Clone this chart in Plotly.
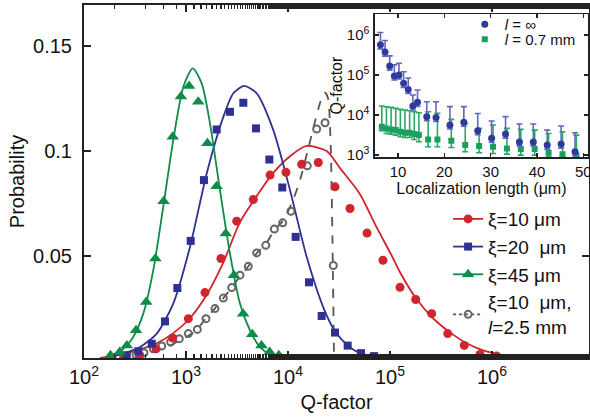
import numpy as np
import plotly.graph_objects as go

# ---------------- main panel data ----------------
# marker data: log10(Q-factor) and probability
xi10_logq = [2.385, 2.546, 2.706, 2.870, 3.023, 3.186, 3.343, 3.497, 3.660, 3.824, 3.980,
             4.134, 4.297, 4.461, 4.608, 4.775, 4.931, 5.098, 5.252, 5.409, 5.566, 5.728,
             5.882, 6.046]
xi10_prob = [0.0013, 0.0029, 0.0060, 0.0111, 0.0203, 0.0327, 0.0489, 0.0667, 0.0770, 0.0886,
             0.0899, 0.0937, 0.0946, 0.0830, 0.0727, 0.0610, 0.0481, 0.0352, 0.0294, 0.0227,
             0.0132, 0.0076, 0.0033, 0.0025]

xi20_logq = [2.419, 2.532, 2.664, 2.794, 2.915, 3.046, 3.176, 3.301, 3.431, 3.562, 3.686,
             3.817, 3.944, 4.075, 4.206, 4.330, 4.461, 4.585, 4.716, 4.843]
xi20_prob = [0.0029, 0.0048, 0.0084, 0.0190, 0.0349, 0.0573, 0.0862, 0.1103, 0.1187, 0.1230,
             0.1108, 0.0960, 0.0827, 0.0592, 0.0376, 0.0216, 0.0137, 0.0075, 0.0039, 0.0025]

xi45_logq = [2.26, 2.35, 2.42, 2.51, 2.61, 2.70, 2.78, 2.87, 2.95, 3.03, 3.12, 3.21, 3.30,
             3.39, 3.47, 3.56, 3.65, 3.74, 3.82, 3.91]
xi45_prob = [0.0029, 0.0044, 0.0076, 0.0148, 0.0282, 0.0489, 0.0762, 0.1068, 0.1260, 0.1310,
             0.1235, 0.1037, 0.0833, 0.0608, 0.0410, 0.0227, 0.0129, 0.0076, 0.0044, 0.0029]

l25_logq = [2.510, 2.588, 2.679, 2.762, 2.850, 2.934, 3.023, 3.111, 3.196, 3.284, 3.366,
            3.448, 3.529, 3.611, 3.693, 3.782, 3.866, 3.948, 4.029, 4.189, 4.281, 4.363, 4.444]
l25_prob = [0.0032, 0.0041, 0.0060, 0.0073, 0.0092, 0.0108, 0.0132, 0.0152, 0.0203, 0.0251,
            0.0301, 0.0351, 0.0410, 0.0452, 0.0516, 0.0552, 0.0629, 0.0659, 0.0714, 0.0930,
            0.1105, 0.1135, 0.0456]

# fitted curves
xi10_fit_logq = [2.157, 2.382, 2.549, 2.713, 2.873, 3.039, 3.206, 3.363, 3.529, 3.693, 3.853,
                 4.020, 4.183, 4.379, 4.510, 4.706, 4.863, 5.020, 5.098, 5.262, 5.422, 5.588,
                 5.752, 5.912, 6.108, 6.225]
xi10_fit_prob = [0.0017, 0.0036, 0.0057, 0.0086, 0.0133, 0.0205, 0.0319, 0.0467, 0.0662, 0.0786,
                 0.0895, 0.0976, 0.1025, 0.1000, 0.0919, 0.0795, 0.0643, 0.0500, 0.0424, 0.0295,
                 0.0205, 0.0138, 0.0086, 0.0052, 0.0029, 0.0019]

xi20_fit_logq = [2.255, 2.385, 2.549, 2.713, 2.875, 3.039, 3.203, 3.366, 3.464, 3.569, 3.693,
                 3.856, 4.020, 4.183, 4.346, 4.461, 4.585, 4.706, 4.853]
xi20_fit_prob = [0.0020, 0.0037, 0.0068, 0.0132, 0.0275, 0.0544, 0.0894, 0.1163, 0.1275, 0.1310,
                 0.1275, 0.1100, 0.0814, 0.0497, 0.0257, 0.0143, 0.0076, 0.0038, 0.0019]

xi45_fit_logq = [2.223, 2.385, 2.483, 2.581, 2.679, 2.777, 2.875, 2.974, 3.066, 3.154, 3.235,
                 3.333, 3.431, 3.529, 3.627, 3.725, 3.840, 3.922]
xi45_fit_prob = [0.0018, 0.0060, 0.0116, 0.0227, 0.0433, 0.0735, 0.1052, 0.1306, 0.1394, 0.1322,
                 0.1132, 0.0814, 0.0513, 0.0275, 0.0148, 0.0068, 0.0029, 0.0018]

l25_fit_logq = [2.500, 2.647, 2.794, 2.941, 3.088, 3.196, 3.284, 3.366, 3.448, 3.529, 3.611,
                3.693, 3.781, 3.866, 3.948, 4.029, 4.118, 4.189, 4.281, 4.333, 4.363, 4.392,
                4.417, 4.436, 4.451]
l25_fit_prob = [0.0024, 0.0043, 0.0064, 0.0100, 0.0143, 0.0205, 0.0252, 0.0301, 0.0351, 0.0405,
                0.0452, 0.0514, 0.0557, 0.0624, 0.0667, 0.0743, 0.0862, 0.0995, 0.1171, 0.1257,
                0.1278, 0.1252, 0.1052, 0.0576, 0.0019]

x_tick_q = [1e2, 1e3, 1e4, 1e5, 1e6]
x_tick_text = ["10<sup>2</sup>", "10<sup>3</sup>", "10<sup>4</sup>", "10<sup>5</sup>", "10<sup>6</sup>"]
y_tick_vals = [0.05, 0.1, 0.15]
y_tick_text = ["0.05", "0.1", "0.15"]

legend_names = ["\u03be=10 \u03bcm", "\u03be=20  \u03bcm", "\u03be=45 \u03bcm",
                "\u03be=10  \u03bcm,<br><i>l</i>=2.5 mm"]

# ---------------- inset data ----------------
loc_len_inf = [6.2, 7.2, 8.2, 9.2, 10.2, 11.2, 12.2, 13.2, 14.2, 16.2, 18.2, 21.2, 24.2, 27.2,
               30.2, 33.2, 36.2, 39.2, 42.2, 45.2, 48.2]
q_inf_log = [5.75, 5.57, 5.22, 4.975, 5.0, 4.79, 4.64, 4.225, 4.317, 3.958, 3.94, 3.75, 3.82,
             3.61, 3.42, 3.525, 3.33, 3.33, 3.25, 3.275, 3.083]
q_inf_up_log = [6.06, 5.86, 5.475, 5.25, 5.29, 5.08, 4.925, 4.5, 4.625, 4.333, 4.333, 4.21,
                4.21, 4.04, 3.85, 3.96, 3.775, 3.775, 3.625, 3.725, 3.56]
q_inf_lo_log = [5.65, 5.47, 5.12, 4.875, 4.9, 4.69, 4.54, 4.125, 4.217, 3.858, 3.84, 3.65, 3.72,
                3.51, 3.32, 3.425, 3.23, 3.23, 3.15, 3.175, 2.983]

loc_len_07 = [6.5, 7.5, 8.5, 9.5, 10.5, 11.5, 12.5, 13.5, 14.5, 16.5, 18.5, 21.5, 24.5, 27.5,
              30.5, 33.5, 36.5, 39.5, 42.5, 45.5, 48.5]
q_07_log = [3.708, 3.667, 3.642, 3.625, 3.583, 3.558, 3.558, 3.525, 3.5, 3.392, 3.392, 3.358,
            3.25, 3.225, 3.208, 3.167, 3.15, 3.15, 3.058, 3.025, 3.0]
q_07_up_log = [4.225, 4.208, 4.19, 4.167, 4.142, 4.125, 4.108, 4.083, 4.058, 4.083, 4.042,
               3.892, 3.79, 3.667, 3.75, 3.667, 3.642, 3.625, 3.54, 3.583, 3.5]
q_07_lo_log = [3.608, 3.54, 3.525, 3.5, 3.458, 3.44, 3.44, 3.39, 3.333, 3.208, 3.208, 3.19,
               3.083, 3.058, 3.042, 3.025, 3.0, 3.0, 2.958, 2.958, 2.958]

inset_x_ticks = [10, 20, 30, 40, 50]
inset_y_ticks = [1e3, 1e4, 1e5, 1e6]
inset_y_text = ["10<sup>3</sup>", "10<sup>4</sup>", "10<sup>5</sup>", "10<sup>6</sup>"]
inset_names = ["<i>l</i> = \u221e", "<i>l</i> = 0.7 mm"]

# ---------------- styles ----------------
RED, BLUE, GREEN, GRAY = "#cf252c", "#2e3192", "#0e8c48", "#666666"
IN_BLUE, IN_BLUE_ERR = "#2f3a9e", "#6068bb"
IN_GREEN, IN_GREEN_ERR = "#18a05c", "#2aa866"
FONT = "Liberation Sans, Arial, Helvetica, sans-serif"
AX = "#222222"

def q(arr):
    return 10 ** np.asarray(arr, dtype=float)

fig = go.Figure()

# fitted curves
for lx, ly, col, dash in [(xi10_fit_logq, xi10_fit_prob, RED, "solid"),
                          (xi20_fit_logq, xi20_fit_prob, BLUE, "solid"),
                          (xi45_fit_logq, xi45_fit_prob, GREEN, "solid"),
                          (l25_fit_logq, l25_fit_prob, "#555555", "dash")]:
    fig.add_trace(go.Scatter(x=q(lx), y=ly, mode="lines", showlegend=False, hoverinfo="skip",
                             line=dict(color=col, width=1.8, dash=dash, shape="spline",
                                       smoothing=0.7)))

# data markers
fig.add_trace(go.Scatter(x=q(l25_logq), y=l25_prob, mode="markers", showlegend=False,
                         marker=dict(symbol="circle-open", size=7, color=GRAY,
                                     line=dict(width=2, color=GRAY))))
fig.add_trace(go.Scatter(x=q(xi10_logq), y=xi10_prob, mode="markers", showlegend=False,
                         marker=dict(symbol="circle", size=9, color=RED)))
fig.add_trace(go.Scatter(x=q(xi20_logq), y=xi20_prob, mode="markers", showlegend=False,
                         marker=dict(symbol="square", size=8, color=BLUE)))
fig.add_trace(go.Scatter(x=q(xi45_logq), y=xi45_prob, mode="markers", showlegend=False,
                         marker=dict(symbol="triangle-up", size=11, color=GREEN)))

# legend entries for main panel
leg_styles = [(RED, "solid", dict(symbol="circle", size=9, color=RED)),
              (BLUE, "solid", dict(symbol="square", size=8, color=BLUE)),
              (GREEN, "solid", dict(symbol="triangle-up", size=11, color=GREEN)),
              ("#555555", "dot", dict(symbol="circle-open", size=7, color=GRAY,
                                      line=dict(width=2, color=GRAY)))]
for name, (col, dash, mk) in zip(legend_names, leg_styles):
    fig.add_trace(go.Scatter(x=[None], y=[None], mode="lines+markers", name=name,
                             line=dict(color=col, width=1.8, dash=dash), marker=mk,
                             legend="legend"))

# inset traces
qi = q(q_inf_log)
q7 = q(q_07_log)
fig.add_trace(go.Scatter(x=loc_len_07, y=q7, mode="markers", name=inset_names[1],
                         xaxis="x2", yaxis="y2", legend="legend3",
                         marker=dict(symbol="square", size=6, color=IN_GREEN),
                         error_y=dict(type="data", symmetric=False,
                                      array=q(q_07_up_log) - q7,
                                      arrayminus=q7 - q(q_07_lo_log),
                                      color=IN_GREEN_ERR, thickness=1.6, width=3)))
fig.add_trace(go.Scatter(x=loc_len_inf, y=qi, mode="markers", name=inset_names[0],
                         xaxis="x2", yaxis="y2", legend="legend2",
                         marker=dict(symbol="circle", size=7, color=IN_BLUE),
                         error_y=dict(type="data", symmetric=False,
                                      array=q(q_inf_up_log) - qi,
                                      arrayminus=qi - q(q_inf_lo_log),
                                      color=IN_BLUE_ERR, thickness=1.6, width=3)))

inset_leg = dict(xanchor="left", yanchor="top", bgcolor="rgba(0,0,0,0)",
                 font=dict(size=15, family=FONT), tracegroupgap=0, itemwidth=30)

fig.update_layout(
    width=590, height=417,
    margin=dict(l=84, r=1, t=5, b=59, autoexpand=False),
    paper_bgcolor="white", plot_bgcolor="white",
    font=dict(family=FONT, color="#111111", size=19),
    xaxis=dict(type="log", range=[2, 6.951], tickvals=x_tick_q, ticktext=x_tick_text,
               ticks="inside", ticklen=7, tickwidth=1.5, tickcolor=AX,
               showline=True, linecolor=AX, linewidth=2, mirror="allticks",
               showgrid=False, zeroline=False, automargin=False, ticklabeloverflow="allow",
               minor=dict(ticks="inside", ticklen=4, tickwidth=1.2, tickcolor=AX, showgrid=False),
               tickfont=dict(size=20), title=dict(text="Q-factor", font=dict(size=20), standoff=8)),
    yaxis=dict(range=[0.0016, 0.1695], tickvals=y_tick_vals, ticktext=y_tick_text,
               ticks="inside", ticklen=7, tickwidth=1.5, tickcolor=AX,
               showline=True, linecolor=AX, linewidth=2, mirror="allticks",
               showgrid=False, zeroline=False, ticklabelstandoff=6, automargin=False,
               ticklabeloverflow="allow",
               tickfont=dict(size=20), title=dict(text="Probability", font=dict(size=20), standoff=3)),
    xaxis2=dict(domain=[0.576, 0.998], anchor="y2", range=[5, 51], tickvals=inset_x_ticks,
                ticks="inside", ticklen=4, tickwidth=1.3, tickcolor=AX,
                showline=True, linecolor=AX, linewidth=1.5, mirror="allticks",
                showgrid=False, zeroline=False, tickfont=dict(size=15), automargin=False,
                ticklabeloverflow="allow",
                title=dict(text="Localization length (\u03bcm)", font=dict(size=16), standoff=2)),
    yaxis2=dict(domain=[0.569, 0.9745], anchor="x2", type="log", range=[2.95, 6.52],
                tickvals=inset_y_ticks, ticktext=inset_y_text,
                ticks="inside", ticklen=4, tickwidth=1.3, tickcolor=AX,
                showline=True, linecolor=AX, linewidth=1.5, mirror="allticks",
                showgrid=False, zeroline=False, tickfont=dict(size=15), ticklabelstandoff=1,
                automargin=False, ticklabeloverflow="allow",
                title=dict(text="Q-factor", font=dict(size=16), standoff=0)),
    legend=dict(x=0.721, y=0.4475, xanchor="left", yanchor="top", bgcolor="rgba(0,0,0,0)",
                font=dict(size=19, family=FONT), tracegroupgap=0, itemwidth=30),
    legend2=dict(x=0.754, y=0.9915, **inset_leg),
    legend3=dict(x=0.754, y=0.949, **inset_leg),
)

fig.write_html("out.html",
               config={"displayModeBar": False, "staticPlot": True},
               post_script="document.body.style.margin='0';document.body.style.overflow='hidden';")
